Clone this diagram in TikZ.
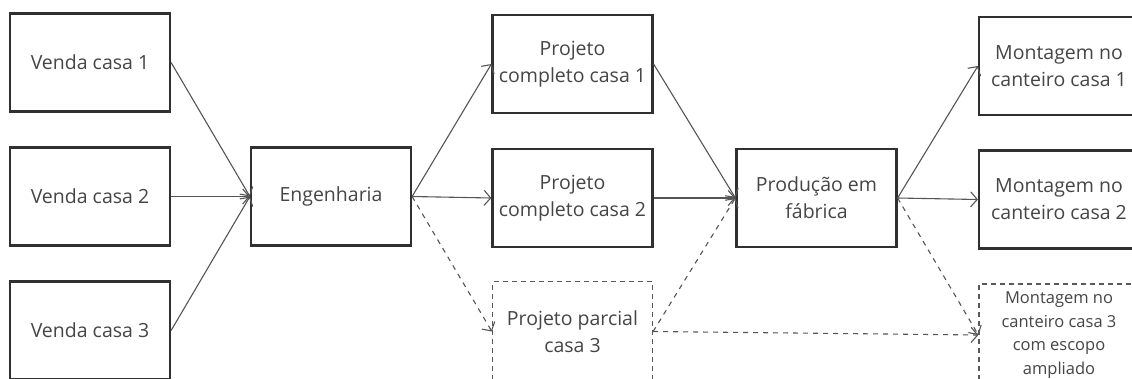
\documentclass[tikz,border=0pt]{standalone}
\usepackage{fontspec}
\setmainfont{Open Sans}
\usetikzlibrary{arrows.meta}
\definecolor{txt}{HTML}{454545}
\definecolor{brd}{HTML}{303030}
\definecolor{lin}{HTML}{555555}
\tikzset{
  box/.style={draw=brd, line width=2.2pt, minimum width=160pt, minimum height=98pt,
    text=txt, align=center, inner sep=2pt, font=\fontsize{19.5}{27}\selectfont},
  dbox/.style={draw=brd!80, line width=1.2pt, dash pattern=on 5pt off 4pt, minimum width=160pt,
    minimum height=100pt, text=txt, align=center, inner sep=2pt},
  conn/.style={draw=lin, line width=1.1pt, -{Straight Barb[length=6.5pt,width=15pt,line width=1.1pt]}},
  dconn/.style={conn, dash pattern=on 5pt off 5pt},
}
\begin{document}
\begin{tikzpicture}[x=1pt,y=-1pt]
\useasboundingbox (0,0) rectangle (1132,378);
\clip (0,0) rectangle (1132,378);
\node[box] (v1) at (90,62.5) {Venda casa 1};
\node[box] (v2) at (90,196.5) {Venda casa 2};
\node[box] (v3) at (90,330.5) {Venda casa 3};
\node[box] (eng) at (331,196.5) {Engenharia};
\node[box] (p1) at (572.5,64) {Projeto\\completo casa 1};
\node[box] (p2) at (572.5,198) {Projeto\\completo casa 2};
\node[dbox, font=\fontsize{19.5}{27}\selectfont] (p3) at (572.5,331.5) {Projeto parcial\\casa 3};
\node[box] (prod) at (816.5,198) {Produção em\\fábrica};
\node[box] (m1) at (1059,66) {Montagem no\\canteiro casa 1};
\node[box] (m2) at (1059,199.5) {Montagem no\\canteiro casa 2};
\node[dbox, minimum height=102pt, font=\fontsize{16.5}{23.5}\selectfont] (m3) at (1059,335) {Montagem no\\canteiro casa 3\\com escopo\\ampliado};
\draw[conn] (v1.east) -- (eng.west);
\draw[conn] (v2.east) -- (eng.west);
\draw[conn] (v3.east) -- (eng.west);
\draw[conn] (eng.east) -- (p1.west);
\draw[conn] (eng.east) -- (p2.west);
\draw[dconn] (eng.east) -- (p3.west);
\draw[conn] (p1.east) -- (prod.west);
\draw[conn] (p2.east) -- (prod.west);
\draw[dconn] (p3.east) -- (prod.west);
\draw[conn] (prod.east) -- (m1.west);
\draw[conn] (prod.east) -- (m2.west);
\draw[dconn] (prod.east) -- (m3.west);
\draw[dconn] (p3.east) -- (m3.west);
\end{tikzpicture}
\end{document}
